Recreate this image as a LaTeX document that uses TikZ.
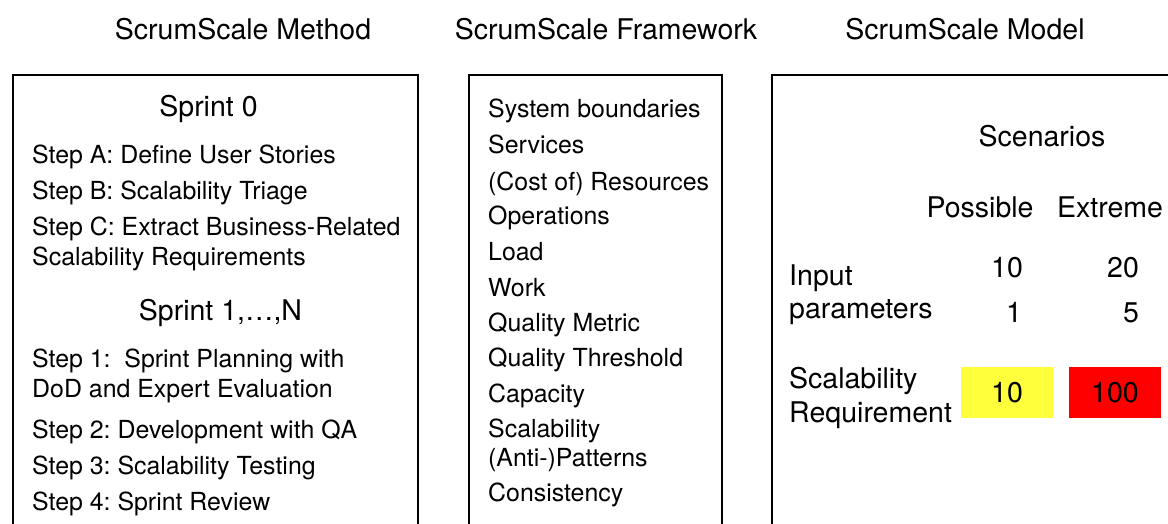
\documentclass[tikz,border=0pt]{standalone}
\usepackage{fontspec}
\setmainfont{TeX Gyre Heros}
\definecolor{possyellow}{RGB}{255,255,60}
\definecolor{extrred}{RGB}{255,0,0}
\frenchspacing
\begin{document}
\begin{tikzpicture}[x=1pt, y=-1pt,
  head/.style={anchor=base, inner sep=0pt, font=\fontsize{28.5}{34}\selectfont},
  rowname/.style={anchor=base west, inner sep=0pt, font=\fontsize{28.5}{34}\selectfont},
  item/.style={anchor=base west, inner sep=0pt, font=\fontsize{24.9}{30}\selectfont},
  cell/.style={inner sep=0pt, minimum width=92, minimum height=51, font=\fontsize{28.5}{34}\selectfont},
  frame/.style={draw, line width=1.2pt}]

\useasboundingbox (0,0) rectangle (1168,524);
\clip (0,0) rectangle (1168,524);

% Titles above the three columns
\node [head] (method)    at (243,40) {ScrumScale Method};
\node [head] (framework) at (606,40) {ScrumScale Framework};
\node [head] (model)     at (965,40) {ScrumScale Model};

% Frames (cut off by the page edge)
\draw [frame] (13,75)  rectangle (418,560);
\draw [frame] (469,75) rectangle (722,560);
\draw [frame] (772,75) rectangle (1200,560);

% Method: sprints and steps
\node [head] (sprint0) at (208.5,117) {Sprint 0};
\node [item] (stepA)   at (32,164) {Step A: Define User Stories};
\node [item] (stepB)   at (32,200) {Step B: Scalability Triage};
\node [item] (stepC)   at (32,236) {Step C: Extract Business-Related};
\node [item] (stepCc)  at (32,265) {Scalability Requirements};
\node [head] (sprintN) at (220.5,320) {Sprint 1,…,N};
\node [item] (step1)   at (32,367) {Step 1:\ \ Sprint Planning with};
\node [item] (step1c)  at (32,397) {DoD and Expert Evaluation};
\node [item] (step2)   at (32,438) {Step 2: Development with QA};
\node [item] (step3)   at (32,474) {Step 3: Scalability Testing};
\node [item] (step4)   at (32,510) {Step 4: Sprint Review};

% Framework: list of concepts
\foreach \y/\t [count=\i] in {118/System boundaries, 154/Services,
    190/(Cost of) Resources, 224/Operations, 260/Load, 296/Work,
    331/Quality Metric, 366/Quality Threshold, 402/Capacity,
    437/Scalability, 466/(Anti-)Patterns, 501/Consistency}
  \node [item] (fw\i) at (488,\y) {\t};

% Model: scenarios table
\node [head] (scen) at (1042,147) {Scenarios};
\node [head] (poss) at (980,217) {Possible};
\node [head] (extr) at (1110,217) {Extreme};

\node [rowname] (input) at (789,285) {Input};
\node [rowname] (param) at (789,318) {parameters};
\node [head] (possA) at (1007,277) {10};
\node [head] (extrA) at (1123,277) {20};
\node [head] (possB) at (1014,322) {1};
\node [head] (extrB) at (1131,322) {5};

\node [rowname] (scal) at (789,388) {Scalability};
\node [rowname] (req)  at (789,422) {Requirement};
\node [cell, fill=possyellow] (reqposs) at (1007,392.5) {10};
\node [cell, fill=extrred]    (reqextr) at (1115,392.5) {100};

\end{tikzpicture}
\end{document}
